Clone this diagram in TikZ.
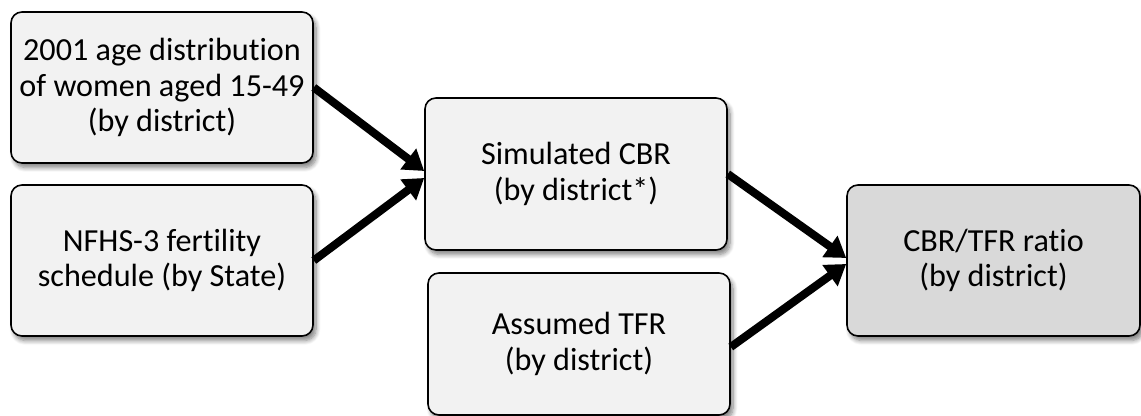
\documentclass[tikz,border=0pt]{standalone}
\usepackage{fontspec}
\setmainfont{Carlito}[Ligatures=NoCommon]
\usepackage{tikz}
\usetikzlibrary{positioning,shapes,arrows.meta,shadows,shadows.blur}
\definecolor{boxgray}{HTML}{F2F2F2}
\definecolor{resgray}{HTML}{D9D9D9}
\tikzstyle{inbox} = [rectangle, rounded corners=0.22cm, minimum width=6.04cm, minimum height=3.02cm, text centered, align=center, draw=black, line width=0.9pt, fill=boxgray, font=\fontsize{18.3}{20}\selectfont, blur shadow={shadow xshift=0.06cm, shadow yshift=-0.09cm, shadow blur steps=8, shadow blur radius=0.09cm, shadow opacity=50}]
\tikzstyle{outbox} = [inbox, fill=resgray, minimum width=5.86cm]
\tikzstyle{connect} = [line width=4.6pt, -{Triangle[length=0.4cm, width=0.5cm]}]

\begin{document}
\begin{tikzpicture}
			\useasboundingbox (0,0) rectangle (22.82,-8.32);
			\node (agedist) [inbox] at (3.24,-1.75) {2001 age distribution\\of women aged 15-49\\(by district)};
			\node (nfhs) [inbox] at (3.24,-5.21) {NFHS-3 fertility\\schedule (by State)};
			\node (simcbr) [inbox, minimum height=3.04cm] at (11.52,-3.48) {Simulated CBR\\(by district*)};
			\node (tfr) [inbox, minimum height=2.84cm] at (11.58,-6.88) {Assumed TFR\\(by district)};
			\node (ratio) [outbox] at (19.87,-5.21) {CBR/TFR ratio\\(by district)};
			%-----------------------------------------------
			%-----------------------------------------------
			\draw [connect] (agedist.east) -- ([yshift=0.06cm]simcbr.west);
			\draw [connect] (nfhs.east) -- ([yshift=-0.08cm]simcbr.west);
			\draw [connect] (simcbr.east) -- ([yshift=0.05cm]ratio.west);
			\draw [connect] ([yshift=-0.06cm]tfr.east) -- ([yshift=-0.07cm]ratio.west);
			\end{tikzpicture}
\end{document}
